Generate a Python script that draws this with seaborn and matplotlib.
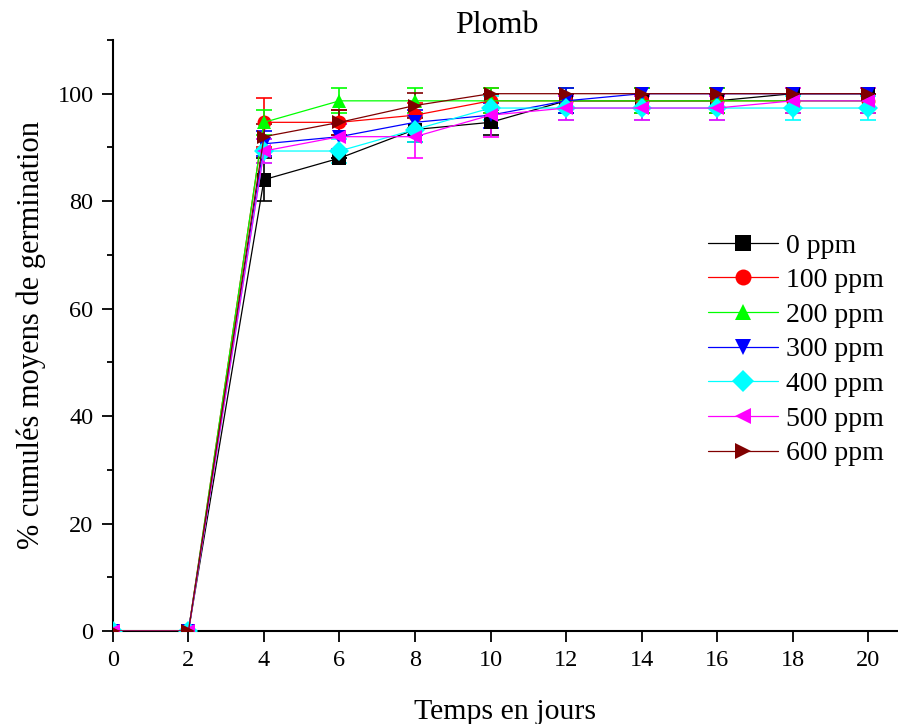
import numpy as np
import pandas as pd
import seaborn as sns
import matplotlib
matplotlib.use("Agg")
import matplotlib.pyplot as plt
from matplotlib.ticker import MultipleLocator

# days
jours = [0, 2, 4, 6, 8, 10, 12, 14, 16, 18, 20]

# mean cumulative germination (%) per concentration
ppm0 = [0, 0, 84.0, 88.0, 93.33, 94.67, 98.67, 98.67, 98.67, 100, 100]
ppm100 = [0, 0, 94.67, 94.67, 96.0, 98.67, 98.67, 98.67, 98.67, 98.67, 98.67]
ppm200 = [0, 0, 94.67, 98.67, 98.67, 98.67, 98.67, 98.67, 98.67, 98.67, 98.67]
ppm300 = [0, 0, 90.67, 92.0, 94.67, 96.0, 98.67, 100, 100, 100, 100]
ppm400 = [0, 0, 89.33, 89.33, 93.33, 97.33, 97.33, 97.33, 97.33, 97.33, 97.33]
ppm500 = [0, 0, 89.33, 92.0, 92.0, 96.0, 97.33, 97.33, 97.33, 98.67, 98.67]
ppm600 = [0, 0, 92.0, 94.67, 97.8, 100, 100, 100, 100, 100, 100]

# error bars
err0 = [0, 0, 4.0, 0, 2.3, 2.3, 2.3, 2.3, 2.3, 0, 0]
err100 = [0, 0, 4.6, 2.3, 2.3, 2.3, 2.3, 2.3, 2.3, 2.3, 2.3]
err200 = [0, 0, 2.3, 2.3, 2.3, 2.3, 2.3, 2.3, 2.3, 2.3, 2.3]
err300 = [0, 0, 2.3, 2.3, 2.3, 2.3, 2.3, 0, 0, 0, 0]
err400 = [0, 0, 2.3, 2.3, 2.3, 2.3, 2.3, 2.3, 2.3, 2.3, 2.3]
err500 = [0, 0, 2.3, 2.3, 4.0, 4.0, 2.3, 2.3, 2.3, 2.3, 2.3]
err600 = [0, 0, 2.3, 2.3, 2.3, 0, 0, 0, 0, 0, 0]

labels = ["0 ppm", "100 ppm", "200 ppm", "300 ppm", "400 ppm", "500 ppm", "600 ppm"]
means = [ppm0, ppm100, ppm200, ppm300, ppm400, ppm500, ppm600]
errs = [err0, err100, err200, err300, err400, err500, err600]
colors = ["#000000", "#ff0000", "#00ff00", "#0000ff", "#00ffff", "#ff00ff", "#800000"]
markers = ["s", "o", "^", "v", "D", "<", ">"]

sns.set_style("ticks")
plt.rcParams["font.family"] = ["Liberation Serif", "DejaVu Serif"]
for k in ["text.color", "axes.labelcolor", "xtick.color", "ytick.color", "axes.edgecolor"]:
    plt.rcParams[k] = "black"

fig = plt.figure(figsize=(8.98, 7.24), dpi=100)
ax = fig.add_axes([0.1258, 0.1285, 0.8732, 0.8163])

for lab, m, e, c, mk in zip(labels, means, errs, colors, markers):
    df = pd.DataFrame({"jour": jours, "pct": m})
    ax.errorbar(jours, m, yerr=e, fmt="none", ecolor=c, elinewidth=1.2,
                capsize=6, capthick=1.2, zorder=2)
    sns.lineplot(data=df, x="jour", y="pct", ax=ax, color=c, marker=mk,
                 markersize=10, markeredgewidth=0, linewidth=0.9, label=lab,
                 zorder=3)

ax.set_xlim(0, 20.77)
ax.set_ylim(0, 110)
ax.xaxis.set_major_locator(MultipleLocator(2))
ax.yaxis.set_major_locator(MultipleLocator(20))
ax.yaxis.set_minor_locator(MultipleLocator(10))
sns.despine(ax=ax)
for sp in ["left", "bottom"]:
    ax.spines[sp].set_linewidth(1.5)
ax.tick_params(axis="both", which="major", direction="out", length=8, width=1.3,
               labelsize=17.5, pad=6)
ax.tick_params(axis="y", which="minor", direction="out", length=4, width=1.3)

ax.set_title("Plomb", fontsize=23, pad=0, x=0.49)
ax.set_xlabel("Temps en jours", fontsize=21.5, labelpad=20)
ax.set_ylabel("% cumulés moyens de germination", fontsize=22, labelpad=8)

ax.legend(loc="center left", bbox_to_anchor=(0.776, 0.517),
          bbox_transform=fig.transFigure, frameon=False, fontsize=20,
          handlelength=2.52, handletextpad=0.29, labelspacing=0.33,
          borderpad=0.4, borderaxespad=0, markerscale=1.15)

fig.savefig("out.png", dpi=100)
